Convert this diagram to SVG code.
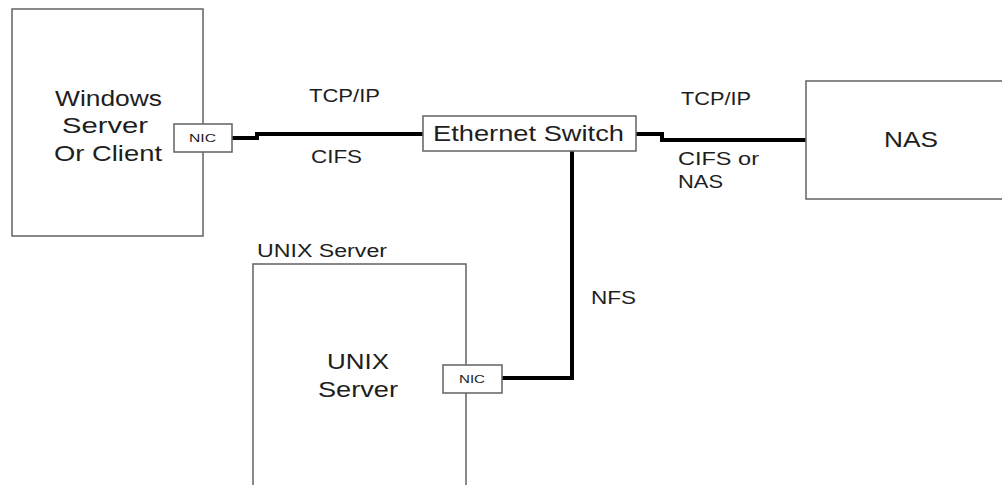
<svg xmlns="http://www.w3.org/2000/svg" width="1002" height="485" viewBox="0 0 1002 485">
<style>
.box{fill:#fff;stroke:#6b6b6b;stroke-width:1.6}
.t{font-family:"Liberation Sans",Arial,sans-serif;fill:#1e1e1e}
.big{font-size:22px}
.mid{font-size:18px}
.small{font-size:11px}
.wire{fill:none;stroke:#000;stroke-width:4;stroke-linejoin:miter}
</style>
<rect width="1002" height="485" fill="#fff"/>
<g id="connectors">
<path class="wire" d="M232,138 H257 V134 H423"/>
<path class="wire" d="M636,134 H662 V140 H806"/>
<path class="wire" d="M572,151 V378 H502"/>
</g>
<g id="windows">
<rect class="box" x="12" y="9" width="191" height="227"/>
<text class="t big" x="55" y="106" textLength="107" lengthAdjust="spacingAndGlyphs">Windows</text>
<text class="t big" x="62" y="133" textLength="86" lengthAdjust="spacingAndGlyphs">Server</text>
<text class="t big" x="54" y="161" textLength="108" lengthAdjust="spacingAndGlyphs">Or Client</text>
</g>
<g id="nic-windows">
<rect class="box" x="174" y="124" width="58" height="28"/>
<text class="t small" x="189" y="142" textLength="27" lengthAdjust="spacingAndGlyphs">NIC</text>
</g>
<g id="switch">
<rect class="box" x="423" y="116" width="213" height="35"/>
<text class="t big" x="433" y="141" textLength="191" lengthAdjust="spacingAndGlyphs">Ethernet Switch</text>
</g>
<g id="nas">
<rect class="box" x="806" y="81" width="220" height="118"/>
<text class="t big" x="884" y="147" textLength="54" lengthAdjust="spacingAndGlyphs">NAS</text>
</g>
<g id="unix">
<text class="t mid" x="257" y="257" textLength="130" lengthAdjust="spacingAndGlyphs">UNIX Server</text>
<rect class="box" x="253" y="264" width="213" height="240"/>
<text class="t big" x="327" y="369" textLength="62" lengthAdjust="spacingAndGlyphs">UNIX</text>
<text class="t big" x="318" y="397" textLength="80" lengthAdjust="spacingAndGlyphs">Server</text>
</g>
<g id="nic-unix">
<rect class="box" x="443" y="365" width="59" height="28"/>
<text class="t small" x="459" y="383" textLength="26" lengthAdjust="spacingAndGlyphs">NIC</text>
</g>
<g id="labels">
<text class="t mid" x="309" y="102" textLength="71" lengthAdjust="spacingAndGlyphs">TCP/IP</text>
<text class="t mid" x="311" y="163" textLength="51" lengthAdjust="spacingAndGlyphs">CIFS</text>
<text class="t mid" x="681" y="105" textLength="70" lengthAdjust="spacingAndGlyphs">TCP/IP</text>
<text class="t mid" x="678" y="165" textLength="81" lengthAdjust="spacingAndGlyphs">CIFS or</text>
<text class="t mid" x="678" y="188" textLength="45" lengthAdjust="spacingAndGlyphs">NAS</text>
<text class="t mid" x="591" y="304" textLength="45" lengthAdjust="spacingAndGlyphs">NFS</text>
</g>
</svg>
